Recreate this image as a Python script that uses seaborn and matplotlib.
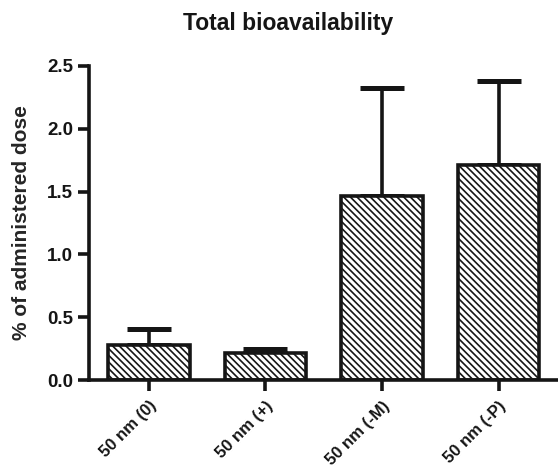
import matplotlib
matplotlib.use("Agg")
import matplotlib.pyplot as plt
import seaborn as sns
import numpy as np
import pandas as pd

categories = ["50 nm (0)", "50 nm (+)", "50 nm (-M)", "50 nm (-P)"]
means = [0.28, 0.215, 1.465, 1.71]
upper_err = [0.13, 0.03, 0.86, 0.67]
yticks = [0.0, 0.5, 1.0, 1.5, 2.0, 2.5]

sns.set_theme(style="white")
plt.rcParams["font.family"] = ["Liberation Sans", "DejaVu Sans"]
plt.rcParams["hatch.linewidth"] = 1.2

df = pd.DataFrame({"cat": categories, "val": means})

fig = plt.figure(figsize=(5.58, 4.71), dpi=100)
ax = fig.add_axes([0.16, 0.193, 0.84, 0.667])

sns.barplot(data=df, x="cat", y="val", color="white", edgecolor="#151515",
            linewidth=2.6, width=0.7, errorbar=None, ax=ax, zorder=2)
for p in ax.patches:
    p.set_hatch("\\\\\\\\\\")
    p.set_facecolor("white")

xs = np.arange(len(categories))
ax.errorbar(xs, np.array(means), yerr=[np.zeros(len(means)), np.array(upper_err)],
            fmt="none", ecolor="#151515", elinewidth=2.6, capsize=15.5, capthick=3.6, zorder=1)

ax.set_xlim(-0.51, 3.51)
ax.set_ylim(0, 2.5)
ax.set_yticks(yticks)
ax.set_yticklabels([f"{t:.1f}" for t in yticks], fontsize=13.5, fontweight="bold")
ax.set_xticks(xs)
ax.set_xticklabels(categories, rotation=45, ha="right", va="top", rotation_mode="anchor",
                   fontsize=12, fontweight="bold")
ax.set_xlabel("")
ax.set_ylabel("% of administered dose", fontsize=15, fontweight="bold", labelpad=12)
fig.text(0.516, 1 - 30 / 471, "Total bioavailability", fontsize=16.5, fontweight="bold",
         ha="center", va="baseline", color="#151515")

for s in ["top", "right"]:
    ax.spines[s].set_visible(False)
for s in ["left", "bottom"]:
    ax.spines[s].set_linewidth(2.6)
    ax.spines[s].set_color("#151515")
ax.spines["left"].set_bounds(0, 2.5)
ax.tick_params(axis="both", which="major", direction="out", length=8, width=2.6,
               color="#151515", left=True, bottom=True, labelcolor="#151515")
ax.tick_params(axis="x", pad=5)

fig.savefig("out.png", dpi=100)
